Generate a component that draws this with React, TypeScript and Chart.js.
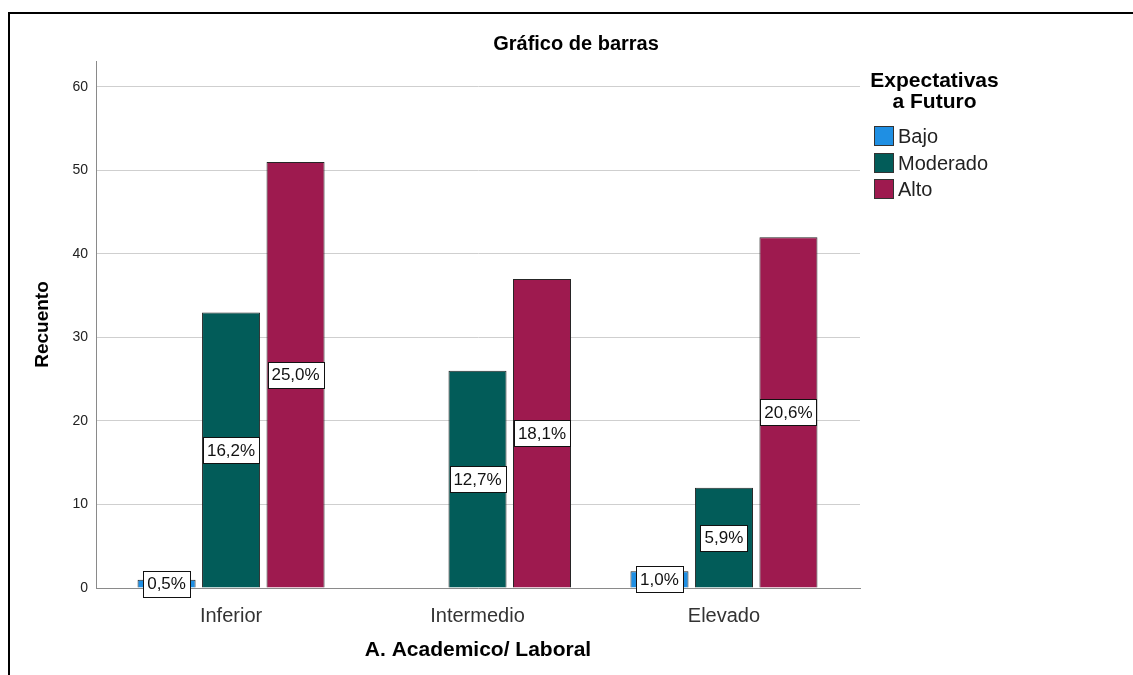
import React, { useEffect, useRef } from "react";
import { Chart, registerables } from "chart.js";

Chart.register(...registerables);

const FONT = '"Liberation Sans", Arial, Helvetica, sans-serif';

const chartTitle = "Gráfico de barras";
const xTitle = "A. Academico/ Laboral";
const yTitle = "Recuento";
const legendTitle = ["Expectativas", "a Futuro"];

const categories = ["Inferior", "Intermedio", "Elevado"];
const seriesNames = ["Bajo", "Moderado", "Alto"];
const bajoValues = [1, 0, 2];
const moderadoValues = [33, 26, 12];
const altoValues = [51, 37, 42];
const yTickValues = [0, 10, 20, 30, 40, 50, 60];
const seriesColors = ["#1f8fe3", "#025c59", "#9e1a4f"];

const seriesValues = [bajoValues, moderadoValues, altoValues];
const total = seriesValues.flat().reduce((a, b) => a + b, 0);
const pct = (v: number) => (v / total * 100).toFixed(1).replace(".", ",") + "%";

const overlayPlugin = {
  id: "overlay",
  afterDatasetsDraw(chart: any) {
    const ctx = chart.ctx as CanvasRenderingContext2D;
    ctx.save();
    // value labels
    ctx.font = `17px ${FONT}`;
    ctx.textAlign = "center";
    ctx.textBaseline = "middle";
    chart.data.datasets.forEach((_ds: any, di: number) => {
      const meta = chart.getDatasetMeta(di);
      meta.data.forEach((el: any, i: number) => {
        const v = seriesValues[di][i];
        if (!v) return;
        const text = pct(v);
        const w = Math.round(ctx.measureText(text).width + 8);
        const h = 26;
        const cx = el.x;
        const cy = (el.y + el.base) / 2;
        const x0 = Math.round(cx - w / 2) + 0.5;
        const y0 = Math.round(cy - h / 2) + 0.5;
        ctx.fillStyle = "#ffffff";
        ctx.fillRect(x0, y0, w, h);
        ctx.strokeStyle = "#111";
        ctx.lineWidth = 1;
        ctx.strokeRect(x0, y0, w, h);
        ctx.fillStyle = "#111";
        ctx.fillText(text, cx, cy + 1);
      });
    });

    // legend
    const left = chart.chartArea.right + 14;
    const top = chart.chartArea.top;
    ctx.font = `bold 21px ${FONT}`;
    ctx.fillStyle = "#000";
    ctx.textAlign = "center";
    legendTitle.forEach((line, k) => {
      ctx.fillText(line, left + 60.5, top + 20.5 + k * 21);
    });
    ctx.font = `20px ${FONT}`;
    ctx.textAlign = "left";
    seriesNames.forEach((name, k) => {
      const by = Math.round(top + 65 + k * 26.5) + 0.5;
      ctx.fillStyle = seriesColors[k];
      ctx.fillRect(left + 0.5, by, 19, 19);
      ctx.strokeStyle = "#333";
      ctx.lineWidth = 1;
      ctx.strokeRect(left + 0.5, by, 19, 19);
      ctx.fillStyle = "#222";
      ctx.fillText(name, left + 24, by + 10.5);
    });
    ctx.restore();
  },
};

export default function App() {
  const ref = useRef<HTMLCanvasElement | null>(null);

  useEffect(() => {
    if (!ref.current) return;
    const chart = new Chart(ref.current, {
      type: "bar",
      data: {
        datasets: seriesNames.map((name, k) => ({
          label: name,
          data: seriesValues[k].map((v, i) => ({ x: i, y: v })),
          backgroundColor: seriesColors[k],
          borderColor: "#262626",
          borderWidth: 1,
          categoryPercentage: 0.785,
          barPercentage: 0.9,
        })),
      },
      options: {
        animation: false,
        responsive: false,
        devicePixelRatio: 1,
        layout: { padding: { left: 9, top: 0, right: 0, bottom: 0 } },
        plugins: {
          legend: { display: false },
          tooltip: { enabled: false },
          title: {
            display: true,
            text: chartTitle,
            color: "#000",
            font: { family: FONT, size: 20, weight: "bold" },
            padding: { top: 18, bottom: 5 },
          },
        },
        scales: {
          x: {
            type: "linear",
            offset: false,
            min: -0.548,
            max: 2.552,
            grid: { display: false, offset: false },
            border: { display: true, color: "#8a8a8a", width: 1 },
            afterBuildTicks: (axis: any) => {
              axis.ticks = categories.map((_c, i) => ({ value: i }));
            },
            afterFit: (s: any) => {
              s.height = 87;
            },
            ticks: {
              autoSkip: false,
              maxRotation: 0,
              padding: 8,
              color: "#333",
              font: { family: FONT, size: 20 },
              callback: (v: any) => categories[Math.round(Number(v))] ?? "",
            },
            title: {
              display: true,
              text: xTitle,
              color: "#000",
              font: { family: FONT, size: 21, weight: "bold" },
              padding: { top: 0, bottom: 12 },
            },
          },
          y: {
            type: "linear",
            min: 0,
            max: 63.1,
            grid: { color: "#cfcfcf", lineWidth: 1, drawTicks: false },
            border: { display: true, color: "#8a8a8a", width: 1 },
            afterBuildTicks: (axis: any) => {
              axis.ticks = yTickValues.map((v) => ({ value: v }));
            },
            afterFit: (s: any) => {
              s.width = 77;
            },
            ticks: {
              padding: 8,
              color: "#222",
              font: { family: FONT, size: 14 },
            },
            title: {
              display: true,
              text: yTitle,
              color: "#000",
              font: { family: FONT, size: 19, weight: "bold" },
              padding: { top: 12.6, bottom: 0 },
            },
          },
          legendSpace: {
            type: "linear",
            position: "right",
            display: true,
            grid: { display: false },
            border: { display: false },
            ticks: { display: false },
            afterFit: (s: any) => {
              s.width = 273;
            },
          },
        },
      } as any,
      plugins: [overlayPlugin],
    });
    return () => chart.destroy();
  }, []);

  return (
    <div style={{ position: "fixed", inset: 0, overflow: "hidden", background: "#fff" }}>
      <div
        style={{
          position: "absolute",
          left: 8,
          top: 12,
          width: 1160,
          height: 700,
          border: "2px solid #000",
          boxSizing: "border-box",
        }}
      />
      <canvas
        ref={ref}
        width={1123}
        height={661}
        style={{ position: "absolute", left: 10, top: 14, width: 1123, height: 661 }}
      />
    </div>
  );
}
